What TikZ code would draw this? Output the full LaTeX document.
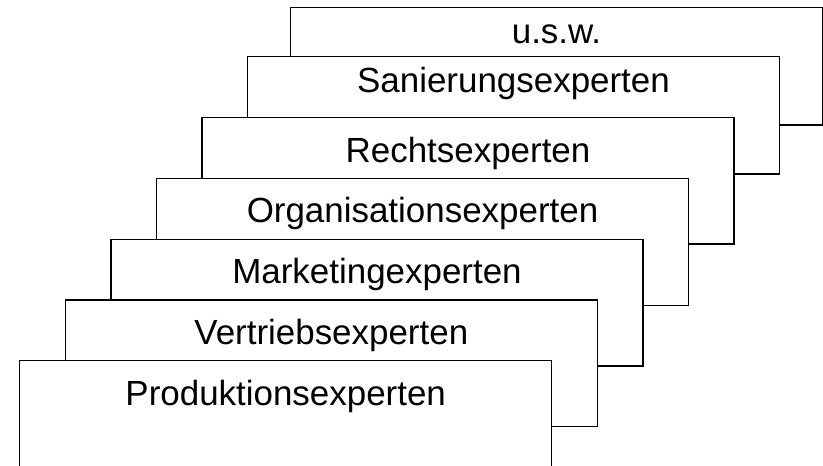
\documentclass[tikz,border=0pt]{standalone}
\usepackage{fontspec}
\setmainfont{Liberation Sans}
\usetikzlibrary{calc}
\begin{document}
\begin{tikzpicture}[x=0.75pt,y=-0.75pt,
  card/.style={draw=black,fill=white,line width=1.1pt,rectangle,anchor=north west,
    inner sep=0pt,outer sep=0pt,minimum width=399pt},
  tall/.style={card,minimum height=95pt},
  short/.style={card,minimum height=88pt},
  caption/.style={anchor=base,inner sep=0pt,font=\fontsize{26.2pt}{30pt}\selectfont}]
\path[use as bounding box,clip] (0,0) rectangle (823,465);
% stacked cards, back to front
\node[short] (usw)  at (290.5,7.7)  {};
\node[short] (san)  at (247.5,56.7) {};
\node[tall]  (rech) at (202,117.3)  {};
\node[tall]  (org)  at (156.5,178.7) {};
\node[tall]  (mkt)  at (111,239.3)  {};
\node[tall]  (vert) at (65.3,300)   {};
\node[card,minimum height=100pt] (prod) at (19.7,360.7) {};
% card titles
\node[caption] (tusw)  at ($(usw.north)+(0,35.6)$)  {u.s.w.};
\node[caption] (tsan)  at ($(san.north)+(0,36)$)    {Sanierungsexperten};
\node[caption] (trech) at ($(rech.north)+(0,44.7)$) {Rechtsexperten};
\node[caption] (torg)  at ($(org.north)+(0,43.3)$)  {Organisationsexperten};
\node[caption] (tmkt)  at ($(mkt.north)+(0,44)$)    {Marketingexperten};
\node[caption] (tvert) at ($(vert.north)+(0,44)$)   {Vertriebsexperten};
\node[caption] (tprod) at ($(prod.north)+(0,44.5)$) {Produktionsexperten};
\end{tikzpicture}
\end{document}
